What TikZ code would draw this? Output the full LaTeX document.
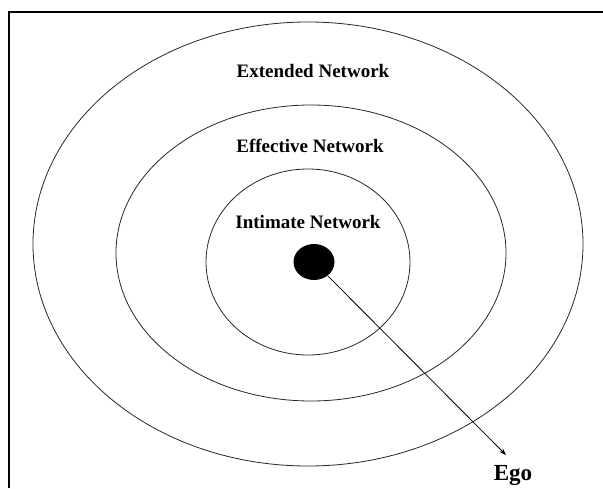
\documentclass[tikz,border=0pt]{standalone}
\usepackage{fontspec}
\setmainfont{Liberation Serif}
\usetikzlibrary{arrows.meta,shapes.geometric}
\begin{document}
\begin{tikzpicture}[x=1pt,y=-1pt,
  ring/.style={draw=black!85,line width=0.8pt},
  lbl/.style={font=\bfseries\fontsize{19}{22}\selectfont,inner sep=0pt},
  egolbl/.style={font=\bfseries\fontsize{23}{26}\selectfont,inner sep=0pt}]
\useasboundingbox (0,0) rectangle (603,488);
\draw[line width=1.5pt] (9,488) -- (9,12) -- (603,12);
\draw[ring] (308,244) ellipse [x radius=275,y radius=222];
\draw[ring] (311,253) ellipse [x radius=195,y radius=148];
\draw[ring] (308,262) ellipse [x radius=102,y radius=93];
\node[ellipse,fill=black,minimum width=41pt,minimum height=36pt,inner sep=0pt] (ego) at (314,262) {};
\node[lbl] (ext) at (313,71) {Extended Network};
\node[lbl] (eff) at (310,146) {Effective Network};
\node[lbl] (int) at (308,222) {Intimate Network};
\node[egolbl] (egot) at (513,476) {Ego};
\coordinate (tip) at (506,455);
\draw[line width=0.8pt,-{Stealth[length=7pt,width=5pt]}] (ego) -- (tip);
\end{tikzpicture}
\end{document}
